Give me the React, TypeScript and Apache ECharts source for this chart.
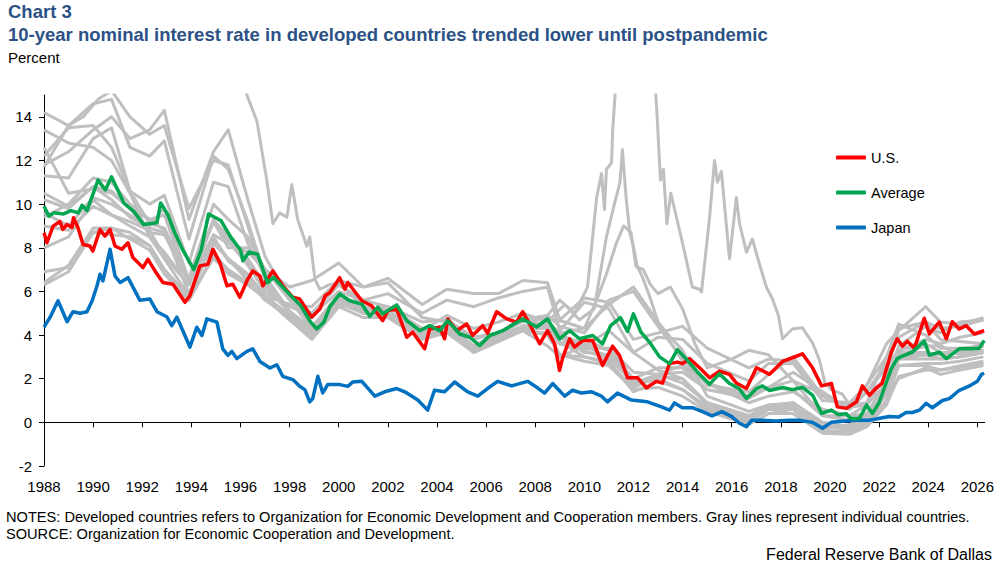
import React, { useEffect, useRef } from "react";
import * as echarts from "echarts";

const TITLE_LINE_1 = "Chart 3";
const TITLE_LINE_2 = "10-year nominal interest rate in developed countries trended lower until postpandemic";
const UNIT_LABEL = "Percent";
const NOTES = "NOTES: Developed countries refers to Organization for Economic Development and Cooperation members. Gray lines represent individual countries.";
const SOURCE = "SOURCE: Organization for Economic Cooperation and Development.";
const CREDIT = "Federal Reserve Bank of Dallas";

const X_TICKS = [1988, 1990, 1992, 1994, 1996, 1998, 2000, 2002, 2004, 2006, 2008, 2010, 2012, 2014, 2016, 2018, 2020, 2022, 2024, 2026];
const Y_TICKS = [-2, 0, 2, 4, 6, 8, 10, 12, 14];

// U.S. 10-year rate [year, percent]
const US: [number, number][] = [
  [1988.0, 8.69], [1988.12, 8.23], [1988.37, 8.99], [1988.65, 9.2], [1988.77, 8.84], [1988.94, 9.07], [1989.14, 8.93], [1989.2, 9.38],
  [1989.38, 8.93], [1989.59, 8.15], [1989.87, 8.08], [1989.99, 7.85], [1990.28, 8.84], [1990.48, 8.53], [1990.69, 8.84], [1990.89, 8.08],
  [1991.17, 7.93], [1991.42, 8.23], [1991.62, 7.55], [1992.03, 7.09], [1992.23, 7.47], [1992.52, 6.94], [1992.84, 6.41], [1993.25, 6.33],
  [1993.74, 5.5], [1993.94, 5.8], [1994.35, 7.17], [1994.67, 7.24], [1994.88, 7.93], [1995.16, 7.32], [1995.45, 6.26], [1995.69, 6.33],
  [1995.97, 5.73], [1996.26, 6.48], [1996.5, 6.94], [1996.79, 6.71], [1996.91, 6.26], [1997.32, 6.94], [1997.72, 6.26], [1998.13, 5.73],
  [1998.41, 5.65], [1998.9, 4.82], [1999.23, 5.19], [1999.45, 5.8], [1999.64, 5.95], [2000.04, 6.63], [2000.25, 6.1], [2000.37, 6.41],
  [2000.94, 5.57], [2001.34, 5.34], [2001.79, 4.66], [2002.0, 5.12], [2002.36, 5.19], [2002.77, 3.9], [2003.01, 4.13], [2003.5, 3.37],
  [2003.7, 4.28], [2004.11, 4.36], [2004.31, 3.83], [2004.44, 4.74], [2004.8, 4.2], [2005.21, 4.51], [2005.45, 3.98], [2005.86, 4.43],
  [2006.06, 4.08], [2006.43, 5.07], [2006.84, 4.74], [2007.24, 4.59], [2007.49, 5.07], [2007.77, 4.51], [2008.18, 3.6], [2008.5, 4.2],
  [2008.79, 3.6], [2008.99, 2.38], [2009.11, 2.92], [2009.4, 3.83], [2009.6, 3.45], [2009.93, 3.75], [2010.34, 3.75], [2010.74, 2.61],
  [2011.15, 3.49], [2011.43, 3.07], [2011.76, 2.04], [2012.17, 2.04], [2012.53, 1.58], [2012.94, 1.88], [2013.18, 1.8], [2013.47, 2.69],
  [2013.79, 2.76], [2014.0, 2.69], [2014.28, 2.92], [2014.69, 2.5], [2015.1, 2.04], [2015.5, 2.34], [2015.91, 2.2], [2016.19, 1.8],
  [2016.6, 1.55], [2017.01, 2.5], [2017.54, 2.2], [2018.07, 2.79], [2018.47, 2.96], [2018.88, 3.14], [2019.29, 2.5], [2019.66, 1.67],
  [2020.06, 1.78], [2020.3, 0.71], [2020.67, 0.64], [2021.08, 0.94], [2021.32, 1.67], [2021.61, 1.24], [2021.89, 1.58], [2022.13, 1.8],
  [2022.5, 3.22], [2022.74, 3.83], [2022.95, 3.49], [2023.15, 3.72], [2023.44, 3.4], [2023.84, 4.77], [2024.05, 4.05], [2024.45, 4.59],
  [2024.74, 3.83], [2024.98, 4.61], [2025.26, 4.28], [2025.55, 4.43], [2025.88, 4.05], [2026.28, 4.2],
];

// Developed-country average [year, percent]
const AVERAGE: [number, number][] = [
  [1988.0, 9.9], [1988.2, 9.45], [1988.4, 9.6], [1988.8, 9.55], [1989.1, 9.7], [1989.4, 9.6], [1989.55, 9.95], [1989.75, 9.7],
  [1990.2, 11.1], [1990.5, 10.65], [1990.75, 11.25], [1991.25, 10.05], [1991.65, 9.67], [1992.05, 9.07], [1992.6, 9.15], [1992.75, 10.05],
  [1993.05, 9.5], [1993.3, 8.75], [1993.65, 7.9], [1994.1, 7.0], [1994.4, 7.9], [1994.7, 9.55], [1995.2, 9.25], [1995.6, 8.5],
  [1996.0, 7.9], [1996.1, 7.4], [1996.35, 7.8], [1996.7, 7.7], [1997.1, 6.4], [1997.35, 6.65], [1997.8, 6.1], [1998.45, 5.35],
  [1998.85, 4.6], [1999.1, 4.28], [1999.4, 4.6], [1999.64, 5.3], [2000.04, 5.88], [2000.45, 5.57], [2000.94, 5.42], [2001.26, 4.86],
  [2001.59, 5.28], [2001.79, 4.97], [2002.36, 5.38], [2002.77, 4.66], [2003.3, 4.2], [2003.7, 4.43], [2004.11, 4.2], [2004.44, 4.66],
  [2004.93, 4.05], [2005.33, 3.9], [2005.74, 3.52], [2006.15, 3.98], [2006.68, 4.2], [2007.49, 4.74], [2008.06, 4.37], [2008.5, 4.74],
  [2008.99, 3.83], [2009.4, 4.2], [2009.8, 3.83], [2010.34, 3.98], [2010.74, 3.6], [2011.07, 4.43], [2011.47, 4.8], [2011.76, 4.17],
  [2012.0, 4.97], [2012.3, 4.14], [2012.65, 3.68], [2013.06, 3.0], [2013.47, 2.69], [2013.79, 3.33], [2014.2, 2.84], [2014.6, 2.31],
  [2015.1, 1.75], [2015.5, 2.23], [2015.91, 1.78], [2016.3, 1.55], [2016.6, 1.09], [2017.01, 1.55], [2017.25, 1.67], [2017.54, 1.46],
  [2018.07, 1.6], [2018.47, 1.5], [2018.88, 1.6], [2019.29, 1.25], [2019.66, 0.41], [2020.06, 0.56], [2020.35, 0.35], [2020.65, 0.4],
  [2020.85, 0.18], [2021.2, 0.18], [2021.49, 0.79], [2021.73, 0.41], [2022.0, 0.9], [2022.3, 1.85], [2022.5, 2.46], [2022.74, 2.92],
  [2022.95, 3.04], [2023.35, 3.22], [2023.84, 3.72], [2024.05, 3.08], [2024.45, 3.22], [2024.74, 2.92], [2025.26, 3.37], [2025.79, 3.37],
  [2026.08, 3.4], [2026.28, 3.75],
];

// Japan [year, percent]
const JAPAN: [number, number][] = [
  [1988.0, 4.36], [1988.25, 4.82], [1988.57, 5.57], [1988.94, 4.61], [1989.18, 5.07], [1989.47, 5.0], [1989.75, 5.07], [1989.96, 5.57],
  [1990.16, 6.26], [1990.28, 6.79], [1990.4, 6.48], [1990.69, 7.93], [1990.89, 6.71], [1991.1, 6.41], [1991.42, 6.63], [1991.9, 5.6],
  [1992.31, 5.65], [1992.6, 5.07], [1993.0, 4.84], [1993.2, 4.43], [1993.41, 4.82], [1993.94, 3.45], [1994.22, 4.36], [1994.43, 3.98],
  [1994.63, 4.74], [1995.04, 4.59], [1995.28, 3.37], [1995.49, 3.07], [1995.65, 3.25], [1995.85, 2.92], [1996.26, 3.25], [1996.5, 3.37],
  [1996.79, 2.79], [1997.2, 2.49], [1997.48, 2.64], [1997.72, 2.11], [1998.13, 1.96], [1998.41, 1.65], [1998.62, 1.5], [1998.82, 0.94],
  [1998.94, 1.09], [1999.15, 2.11], [1999.35, 1.35], [1999.55, 1.73], [2000.04, 1.73], [2000.37, 1.65], [2000.57, 1.85], [2000.94, 1.88],
  [2001.47, 1.2], [2001.87, 1.4], [2002.36, 1.55], [2002.69, 1.4], [2003.22, 1.02], [2003.62, 0.56], [2003.9, 1.47], [2004.31, 1.4],
  [2004.72, 1.85], [2005.25, 1.4], [2005.66, 1.2], [2006.06, 1.55], [2006.47, 1.88], [2007.04, 1.67], [2007.69, 1.88], [2007.98, 1.67],
  [2008.38, 1.34], [2008.71, 1.78], [2009.2, 1.2], [2009.52, 1.47], [2009.89, 1.34], [2010.3, 1.4], [2010.7, 1.2], [2010.94, 0.94],
  [2011.35, 1.34], [2011.92, 1.02], [2012.57, 0.94], [2013.14, 0.71], [2013.47, 0.56], [2013.67, 0.89], [2013.99, 0.67], [2014.4, 0.67],
  [2014.81, 0.49], [2015.2, 0.3], [2015.6, 0.49], [2016.0, 0.26], [2016.3, -0.03], [2016.6, -0.2], [2016.82, 0.1], [2017.25, 0.1],
  [2017.8, 0.06], [2018.35, 0.1], [2018.75, 0.1], [2019.28, 0.0], [2019.7, -0.27], [2020.05, 0.0], [2020.5, 0.05], [2021.06, 0.1],
  [2021.6, 0.1], [2021.99, 0.18], [2022.4, 0.27], [2022.8, 0.25], [2023.1, 0.45], [2023.35, 0.45], [2023.64, 0.56], [2023.92, 0.87],
  [2024.17, 0.67], [2024.58, 1.0], [2024.86, 1.09], [2025.27, 1.47], [2025.68, 1.67], [2026.0, 1.88], [2026.17, 2.2], [2026.28, 2.25],
];

// Sample years shared by most individual-country (gray) lines
const GRAY_YEARS = [
  1988, 1989, 1990, 1990.75, 1991.5, 1992.3, 1992.9, 1993.9, 1994.9, 1995.5, 1996.3, 1997, 1998, 1998.9,
  2000, 2001, 2002, 2003.4, 2004.4, 2005.5, 2006.5, 2007.5, 2008.5, 2009, 2010, 2011, 2012, 2013,
  2014, 2015, 2016.7, 2017.5, 2018.5, 2019.7, 2020.8, 2021.5, 2022.3, 2022.8, 2023.9, 2024.5, 2025.3, 2026.25,
];

const ITALY = [11.8, 12.4, 13.4, 14.0, 13.0, 13.4, 14.3, 9.3, 12.4, 13.4, 10.2, 7.6, 5.6, 4.3, 5.8, 5.3, 5.1, 4.1, 4.3, 3.5, 4.1, 4.7, 4.9, 4.4, 4.1, 5.6, 6.0, 4.4, 2.9, 1.7, 1.4, 2.2, 3.0, 1.2, 0.7, 0.8, 2.2, 4.3, 4.6, 3.8, 3.7, 3.6];
const SPAIN = [11.7, 13.6, 14.6, 14.8, 12.6, 12.2, 12.9, 8.4, 12.2, 11.6, 9.2, 6.7, 5.1, 4.2, 5.6, 5.2, 5.0, 3.9, 4.2, 3.3, 3.9, 4.4, 4.6, 4.1, 4.3, 5.4, 6.2, 4.6, 2.8, 1.8, 1.2, 1.6, 1.5, 0.3, 0.3, 0.4, 1.8, 3.3, 3.6, 3.2, 3.2, 3.3];
const SWEDEN = [11.3, 11.2, 13.0, 13.5, 10.6, 10.0, 10.4, 7.3, 11.0, 10.8, 8.2, 6.7, 5.0, 4.2, 5.4, 5.1, 5.3, 4.3, 4.3, 3.2, 3.7, 4.2, 4.0, 3.1, 3.0, 2.7, 1.6, 2.1, 2.0, 0.8, 0.3, 0.7, 0.7, -0.3, -0.1, 0.3, 1.3, 2.0, 2.5, 2.2, 2.4, 2.6];
const AUSTRALIA = [12.2, 13.5, 13.6, 12.6, 10.6, 9.1, 8.9, 6.6, 10.0, 9.3, 8.5, 7.0, 5.6, 5.0, 6.3, 5.6, 5.9, 5.0, 5.6, 5.3, 5.7, 6.0, 6.2, 4.2, 5.5, 5.2, 3.2, 3.9, 3.8, 2.7, 1.9, 2.7, 2.7, 1.0, 0.9, 1.7, 3.0, 3.9, 4.6, 4.3, 4.4, 4.7];
const NEW_ZEALAND = [13.4, 12.8, 12.6, 12.0, 10.5, 8.5, 7.8, 6.3, 9.2, 8.0, 8.0, 7.0, 6.2, 6.5, 7.3, 6.2, 6.6, 5.4, 6.1, 5.9, 5.9, 6.5, 6.4, 4.7, 5.7, 5.5, 3.8, 4.1, 4.4, 3.4, 2.5, 2.9, 2.8, 1.2, 0.7, 1.7, 3.6, 4.2, 5.3, 4.6, 4.5, 4.8];
const UK = [9.4, 10.0, 11.2, 11.0, 10.0, 9.3, 9.5, 6.4, 8.6, 8.2, 7.8, 7.0, 5.8, 4.4, 5.6, 5.0, 5.0, 4.2, 4.9, 4.3, 4.6, 5.0, 4.6, 3.6, 3.8, 3.3, 1.7, 2.2, 2.6, 1.8, 0.9, 1.2, 1.4, 0.6, 0.3, 0.8, 1.8, 3.5, 4.4, 4.1, 4.6, 4.7];
const CANADA = [10.5, 9.9, 10.8, 10.6, 9.8, 8.7, 8.6, 6.5, 9.2, 8.3, 7.2, 6.0, 5.3, 4.9, 6.0, 5.6, 5.3, 4.6, 4.7, 3.9, 4.1, 4.2, 3.5, 3.0, 3.5, 3.0, 1.8, 2.2, 2.3, 1.5, 1.1, 1.6, 2.3, 1.4, 0.6, 1.4, 2.7, 3.1, 3.5, 3.5, 3.1, 3.3];
const GERMANY = [6.3, 6.9, 8.7, 8.9, 8.4, 7.9, 6.8, 5.6, 7.6, 6.8, 6.3, 5.7, 4.7, 3.8, 5.3, 4.8, 4.8, 3.8, 4.1, 3.2, 3.8, 4.2, 4.1, 3.1, 2.8, 2.6, 1.5, 1.6, 1.2, 0.5, -0.1, 0.4, 0.4, -0.5, -0.55, -0.2, 0.8, 2.1, 2.4, 2.4, 2.6, 2.8];
const NETHERLANDS = [6.4, 7.2, 8.9, 8.9, 8.7, 8.1, 7.0, 5.6, 7.7, 7.0, 6.4, 5.7, 4.8, 3.9, 5.5, 5.0, 5.0, 3.9, 4.2, 3.3, 3.9, 4.3, 4.3, 3.6, 3.3, 2.9, 1.9, 1.9, 1.5, 0.6, 0.0, 0.6, 0.6, -0.4, -0.45, -0.1, 1.0, 2.6, 2.7, 2.7, 2.8, 3.0];
const AUSTRIA = [6.9, 7.1, 8.7, 8.6, 8.5, 8.1, 7.0, 5.8, 7.5, 6.9, 6.3, 5.7, 4.7, 3.9, 5.5, 5.1, 5.0, 3.9, 4.2, 3.3, 3.8, 4.3, 4.3, 3.9, 3.2, 3.1, 1.9, 2.0, 1.5, 0.7, 0.1, 0.6, 0.6, -0.2, -0.3, 0.0, 1.3, 2.9, 2.9, 2.9, 3.0, 3.2];
const FRANCE = [9.0, 8.8, 9.9, 9.5, 9.0, 8.5, 7.5, 5.8, 8.2, 7.5, 6.5, 5.6, 4.8, 4.0, 5.5, 5.0, 4.9, 3.9, 4.2, 3.3, 3.9, 4.4, 4.4, 3.6, 3.4, 3.4, 2.3, 2.2, 1.8, 0.9, 0.3, 0.8, 0.8, -0.1, -0.3, 0.1, 1.4, 2.9, 3.1, 3.1, 3.3, 3.6];
const BELGIUM = [8.0, 8.5, 10.2, 9.5, 9.2, 8.8, 7.6, 6.3, 8.5, 7.4, 6.7, 5.8, 4.9, 4.1, 5.6, 5.1, 5.0, 4.0, 4.3, 3.4, 4.0, 4.4, 4.5, 3.9, 3.5, 4.2, 3.2, 2.4, 2.0, 0.9, 0.3, 0.7, 0.9, -0.1, -0.2, 0.1, 1.4, 3.0, 3.2, 3.1, 3.2, 3.5];
const DENMARK = [10.2, 9.8, 10.8, 10.2, 9.4, 8.9, 8.7, 6.4, 9.3, 8.5, 7.3, 6.2, 5.1, 4.3, 5.9, 5.2, 5.1, 4.1, 4.3, 3.3, 3.9, 4.4, 4.4, 3.7, 3.0, 2.8, 1.4, 1.9, 1.5, 0.7, 0.2, 0.6, 0.4, -0.4, -0.4, 0.0, 1.3, 2.6, 2.6, 2.4, 2.5, 2.7];
const NORWAY = [12.6, 10.5, 10.7, 10.5, 9.8, 9.3, 8.8, 5.9, 8.4, 7.5, 6.8, 5.8, 5.4, 5.3, 6.5, 6.2, 6.4, 4.8, 4.6, 3.8, 4.1, 4.8, 4.4, 4.0, 3.6, 3.3, 2.0, 2.5, 2.5, 1.5, 1.2, 1.6, 1.9, 1.3, 0.6, 1.4, 2.5, 3.3, 3.8, 3.6, 3.9, 4.1];

// Gray lines with their own sample dates (crisis spikes)
const IRELAND: [number, number][] = [
  [1988, 9.6], [1989, 9.0], [1990, 10.3], [1990.75, 10.0], [1991.5, 9.5], [1992.3, 9.0], [1992.9, 9.8], [1993.9, 6.5], [1994.9, 9.2],
  [1995.5, 8.5], [1996.3, 7.5], [1997, 6.3], [1998, 5.0], [1998.9, 4.2], [2000, 5.5], [2001, 5.0], [2002, 5.0], [2003.4, 3.9],
  [2004.4, 4.2], [2005.5, 3.3], [2006.5, 3.9], [2007.5, 4.4], [2008.5, 4.6], [2009.2, 5.4], [2009.8, 4.7], [2010.4, 5.2], [2010.9, 8.5],
  [2011.2, 9.9], [2011.45, 11.0], [2011.55, 12.5], [2011.7, 10.3], [2011.85, 8.7], [2012.0, 8.07], [2012.15, 7.15], [2012.35, 6.7],
  [2012.65, 5.8], [2013.0, 4.6], [2013.5, 3.9], [2014, 3.3], [2015, 1.2], [2016.7, 0.5], [2017.5, 0.8], [2018.5, 0.9], [2019.7, 0.0],
  [2020.8, -0.2], [2021.5, 0.2], [2022.3, 1.5], [2022.8, 3.0], [2023.9, 3.1], [2024.5, 2.9], [2025.3, 3.0], [2026.25, 3.2],
];
const PORTUGAL: [number, number][] = [
  [1988, 14.2], [1989, 13.6], [1989.6, 14.0], [1990.2, 14.8], [1990.75, 15.2], [1991.5, 14.0], [1992.3, 13.2], [1992.9, 13.6],
  [1993.9, 9.8], [1994.9, 12.0], [1995.5, 11.8], [1996.3, 9.0], [1997, 6.5], [1998, 5.0], [1998.9, 4.3], [2000, 5.7], [2001, 5.2],
  [2002, 5.1], [2003.4, 4.0], [2004.4, 4.3], [2005.5, 3.4], [2006.5, 4.1], [2007.5, 4.6], [2008.5, 4.8], [2009.2, 4.6], [2010, 4.3],
  [2010.5, 5.6], [2010.9, 6.8], [2011.3, 8.2], [2011.6, 9.0], [2011.9, 8.7], [2012.1, 7.15], [2012.4, 7.0], [2012.7, 6.3],
  [2013.0, 5.9], [2013.5, 6.2], [2014.0, 5.2], [2014.5, 3.6], [2015.0, 2.5], [2016.0, 2.9], [2016.7, 3.3], [2017.5, 3.1],
  [2018.5, 1.9], [2019.7, 0.3], [2020.8, 0.1], [2021.5, 0.4], [2022.3, 1.8], [2022.8, 3.2], [2023.9, 3.2], [2024.5, 2.9],
  [2025.3, 3.0], [2026.25, 3.2],
];
const GREECE: [number, number][] = [
  [1996.0, 16.5], [1996.26, 15.0], [1996.67, 13.8], [1997.07, 11.1], [1997.32, 9.1], [1997.6, 9.6], [1997.89, 9.4], [1998.09, 10.9],
  [1998.33, 9.3], [1998.7, 8.07], [1998.82, 8.5], [1999.03, 6.56], [1999.23, 6.1], [1999.6, 6.3], [2000.0, 6.4], [2001, 5.3],
  [2002, 5.1], [2003.4, 4.1], [2004.4, 4.5], [2005.5, 3.5], [2006.5, 4.1], [2007.5, 4.7], [2008.5, 4.9], [2009.0, 5.6], [2009.6, 5.0],
  [2010.13, 6.2], [2010.5, 10.3], [2010.7, 11.4], [2010.82, 9.75], [2010.9, 11.6], [2011.11, 11.9], [2011.15, 13.3], [2011.31, 16.0],
  [2011.8, 19.0], [2012.2, 26.0], [2012.6, 24.0], [2012.85, 16.0], [2012.94, 14.5], [2013.1, 11.1], [2013.22, 11.6], [2013.36, 9.1],
  [2013.52, 10.5], [2013.96, 8.4], [2014.4, 6.2], [2014.69, 6.1], [2014.77, 5.97], [2015.1, 9.4], [2015.3, 12.0], [2015.42, 11.0],
  [2015.58, 11.5], [2015.91, 7.5], [2016.19, 10.3], [2016.32, 9.1], [2016.6, 7.8], [2016.84, 8.4], [2017.12, 7.3], [2017.41, 6.2],
  [2017.66, 5.65], [2017.9, 4.9], [2018.07, 3.83], [2018.47, 4.28], [2018.88, 4.33], [2019.29, 3.64], [2019.56, 2.9], [2019.8, 1.8],
  [2020.05, 1.5], [2020.5, 1.3], [2020.8, 0.8], [2021.5, 0.9], [2022.3, 3.0], [2022.8, 4.5], [2023.9, 4.0], [2024.5, 3.4],
  [2025.3, 3.4], [2026.25, 3.5],
];

const GRAY_SHARED: [string, number[]][] = [
  ["Italy", ITALY], ["Spain", SPAIN], ["Sweden", SWEDEN], ["Australia", AUSTRALIA], ["New Zealand", NEW_ZEALAND],
  ["United Kingdom", UK], ["Canada", CANADA], ["Germany", GERMANY], ["Netherlands", NETHERLANDS], ["Austria", AUSTRIA],
  ["France", FRANCE], ["Belgium", BELGIUM], ["Denmark", DENMARK], ["Norway", NORWAY],
];
const GRAY_OWN: [string, [number, number][]][] = [["Ireland", IRELAND], ["Portugal", PORTUGAL], ["Greece", GREECE]];

const FONT = "'Liberation Sans', Arial, Helvetica, sans-serif";
const GRAY = "#bfbfbf";
const RED = "#ff0000";
const GREEN = "#00a650";
const BLUE = "#0070c0";
const TITLE_BLUE = "#2b5186";

export default function App() {
  const ref = useRef<HTMLDivElement>(null);

  useEffect(() => {
    if (!ref.current) return;
    const chart = echarts.init(ref.current, null, { renderer: "svg" });

    const graySeries: any[] = [
      ...GRAY_SHARED.map(([name, vals]) => ({
        name,
        data: GRAY_YEARS.map((y, i) => [y, vals[i]]),
      })),
      ...GRAY_OWN.map(([name, pts]) => ({ name, data: pts })),
    ].map((s) => ({
      ...s,
      type: "line",
      showSymbol: false,
      symbol: "none",
      silent: true,
      z: 1,
      lineStyle: { color: GRAY, width: 3, join: "round" },
      itemStyle: { color: GRAY },
      emphasis: { disabled: true },
    }));

    const mainLine = (name: string, data: [number, number][], color: string, z: number) => ({
      name,
      type: "line",
      data,
      showSymbol: false,
      symbol: "none",
      z,
      lineStyle: { color, width: 3.5, join: "round" },
      itemStyle: { color },
      emphasis: { disabled: true },
    });

    const option: any = {
      animation: false,
      backgroundColor: "#ffffff",
      textStyle: { fontFamily: FONT },
      grid: { left: 44, top: 95, width: 941, height: 371, containLabel: false },
      legend: {
        data: ["U.S.", "Average", "Japan"],
        orient: "vertical",
        left: 831,
        top: 145,
        itemWidth: 30,
        itemHeight: 4,
        itemGap: 20,
        icon: "roundRect",
        selectedMode: false,
        textStyle: { fontFamily: FONT, fontSize: 14.5, color: "#000" },
      },
      xAxis: [
        {
          type: "value",
          min: 1988,
          max: 2026.3,
          interval: 2,
          position: "bottom",
          axisLine: { show: true, onZero: true, lineStyle: { color: "#000", width: 1 } },
          axisTick: { show: true, inside: false, length: 5, customValues: X_TICKS, lineStyle: { color: "#000" } },
          axisLabel: { show: false },
          splitLine: { show: false },
        },
        {
          type: "value",
          min: 1988,
          max: 2026.3,
          interval: 2,
          position: "bottom",
          axisLine: { show: false, onZero: false },
          axisTick: { show: false },
          axisLabel: {
            show: true,
            customValues: X_TICKS,
            margin: 13,
            fontSize: 15,
            color: "#000",
            fontFamily: FONT,
            formatter: (v: number) => String(v),
          },
          splitLine: { show: false },
        },
      ],
      yAxis: {
        type: "value",
        min: -2,
        max: 15,
        interval: 2,
        axisLine: { show: true, onZero: false, lineStyle: { color: "#000", width: 1 } },
        axisTick: { show: true, inside: false, length: 5, customValues: Y_TICKS, lineStyle: { color: "#000" } },
        axisLabel: {
          customValues: Y_TICKS,
          margin: 12,
          fontSize: 15,
          color: "#000",
          fontFamily: FONT,
          formatter: (v: number) => String(v),
        },
        splitLine: { show: false },
      },
      series: [
        ...graySeries,
        mainLine("Japan", JAPAN, BLUE, 3),
        mainLine("U.S.", US, RED, 4),
        mainLine("Average", AVERAGE, GREEN, 5),
      ],
      graphic: [
        {
          type: "text",
          left: 8,
          top: 2,
          style: { text: TITLE_LINE_1, fill: TITLE_BLUE, font: `bold 18.5px ${FONT}` },
        },
        {
          type: "text",
          left: 8,
          top: 25,
          style: { text: TITLE_LINE_2, fill: TITLE_BLUE, font: `bold 18.5px ${FONT}` },
        },
        {
          type: "text",
          left: 8,
          top: 50,
          style: { text: UNIT_LABEL, fill: "#000", font: `15px ${FONT}` },
        },
        {
          type: "text",
          left: 6,
          top: 509,
          style: { text: NOTES, fill: "#000", font: `14.6px ${FONT}` },
        },
        {
          type: "text",
          left: 6,
          top: 526,
          style: { text: SOURCE, fill: "#000", font: `14.6px ${FONT}` },
        },
        {
          type: "text",
          right: 5,
          top: 546,
          style: { text: CREDIT, fill: "#000", font: `16px ${FONT}` },
        },
      ],
    };

    chart.setOption(option);
    return () => chart.dispose();
  }, []);

  return (
    <div
      ref={ref}
      style={{ position: "fixed", left: 0, top: 0, width: 997, height: 565, background: "#fff" }}
    />
  );
}
